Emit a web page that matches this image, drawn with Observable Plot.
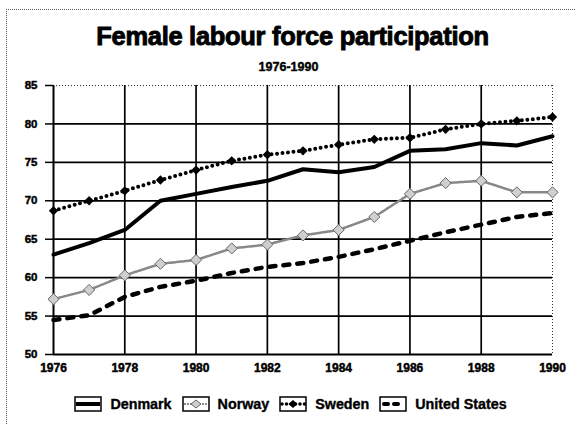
<!DOCTYPE html>
<html><head><meta charset="utf-8">
<script src="https://cdn.jsdelivr.net/npm/d3@7"></script>
<script src="https://cdn.jsdelivr.net/npm/@observablehq/plot@0.6"></script>
<style>
body{margin:0;background:#fff;font-family:"Liberation Sans",Arial,sans-serif;color:#000;}
#frame{position:relative;width:575px;height:424px;overflow:hidden;background:#fff;}
#border{position:absolute;left:6px;top:9px;width:600px;height:450px;border-top:1px dotted #555;border-left:1px dotted #555;}
#title{position:absolute;left:0;width:585px;top:23px;text-align:center;font-weight:bold;font-size:25.5px;line-height:26px;letter-spacing:-0.3px;-webkit-text-stroke:0.9px #000;}
#subtitle{position:absolute;left:0;width:577px;top:61px;text-align:center;font-weight:bold;font-size:12.5px;line-height:12.5px;-webkit-text-stroke:0.4px #000;}
#chart{position:absolute;left:0;top:75px;}
#chart text{stroke:#000;stroke-width:0.45px;}
#legend{position:absolute;left:0;width:581px;top:396px;display:flex;justify-content:center;align-items:center;font-weight:bold;font-size:14.3px;-webkit-text-stroke:0.35px #000;}
.item{display:flex;align-items:center;margin:0 5px;}
.item svg{margin-right:8px;}
</style></head>
<body>
<div id="frame">
<div id="border"></div>
<div id="title">Female labour force participation</div>
<div id="subtitle">1976-1990</div>
<div id="chart"></div>
<div id="legend"></div>
</div>
<script>
const years = [1976,1977,1978,1979,1980,1981,1982,1983,1984,1985,1986,1987,1988,1989,1990];
const seriesNames = ["Denmark","Norway","Sweden","United States"];
const denmark      = [63.0,64.5,66.2,70.0,70.9,71.8,72.6,74.1,73.7,74.4,76.5,76.7,77.5,77.2,78.4];
const norway       = [57.2,58.4,60.3,61.8,62.3,63.8,64.3,65.5,66.2,67.9,70.9,72.3,72.6,71.1,71.1];
const sweden       = [68.7,70.0,71.3,72.7,74.0,75.2,76.0,76.5,77.3,78.0,78.2,79.3,80.0,80.4,80.9];
const unitedStates = [54.5,55.1,57.5,58.8,59.6,60.6,61.4,61.9,62.7,63.7,64.8,65.9,66.9,67.9,68.4];
const yTicks = [50,55,60,65,70,75,80,85];
const xTicks = [1976,1978,1980,1982,1984,1986,1988,1990];

const rows = (name, vals) => years.map((y,i) => ({series:name, year:y, value:vals[i]}));
const dk = rows("Denmark", denmark);
const no = rows("Norway", norway);
const se = rows("Sweden", sweden);
const us = rows("United States", unitedStates);

const innerY = yTicks.filter(v => v > 50 && v < 85);
const innerX = xTicks.filter(v => v > 1976 && v < 1990);

const plot = Plot.plot({
  width: 575,
  height: 310,
  marginTop: 10,
  marginBottom: 31,
  marginLeft: 53,
  marginRight: 23,
  style: {fontFamily: "'Liberation Sans', Arial, sans-serif", fontWeight: "bold", fontSize: "11.5px", color: "#000", background: "transparent"},
  x: {domain: [1976, 1990]},
  y: {domain: [50, 85]},
  marks: [
    Plot.ruleY(innerY, {stroke: "#000", strokeWidth: 1.7}),
    Plot.ruleX(innerX, {stroke: "#000", strokeWidth: 1.7}),
    Plot.ruleY([85], {stroke: "#333", strokeWidth: 1, strokeDasharray: "1,2"}),
    Plot.ruleX([1990], {stroke: "#333", strokeWidth: 1, strokeDasharray: "1,2"}),
    Plot.ruleY([50], {stroke: "#000", strokeWidth: 2}),
    Plot.ruleX([1976], {stroke: "#000", strokeWidth: 2}),
    Plot.axisY({ticks: yTicks, tickSize: 8, tickPadding: 8, label: null, fontSize: 11.5, fontWeight: "bold", strokeWidth: 1.5}),
    Plot.axisX({ticks: xTicks, tickSize: 0, tickPadding: 9, tickFormat: "d", label: null, fontSize: 12, fontWeight: "bold"}),
    // United States: thick dashed
    Plot.line(us, {x: "year", y: "value", stroke: "#000", strokeWidth: 4.5, strokeDasharray: "6,8", strokeLinecap: "round"}),
    // Norway: grey textured line with cross-hatched markers
    Plot.line(no, {x: "year", y: "value", stroke: "#888", strokeWidth: 2.5, strokeDasharray: "2,1"}),
    Plot.dot(no, {x: "year", y: "value", symbol: "diamond2", r: 5, fill: "#cfcfcf", stroke: "#666", strokeWidth: 1}),
    // Denmark: solid thick
    Plot.line(dk, {x: "year", y: "value", stroke: "#000", strokeWidth: 4}),
    // Sweden: dotted with diamond markers
    Plot.line(se, {x: "year", y: "value", stroke: "#000", strokeWidth: 4, strokeDasharray: "0,5.5", strokeLinecap: "round"}),
    Plot.dot(se, {x: "year", y: "value", symbol: "diamond2", r: 4.2, fill: "#000"})
  ]
});
document.getElementById("chart").appendChild(plot);

// Legend (HTML swatches)
const swatches = {
  "Denmark": `<line x1="2" y1="8" x2="26" y2="8" stroke="#000" stroke-width="4"/>`,
  "Norway": `<line x1="2" y1="8" x2="26" y2="8" stroke="#888" stroke-width="2" stroke-dasharray="2,1"/><path d="M14 4 L19 8 L14 12 L9 8 Z" fill="#cfcfcf" stroke="#666"/>`,
  "Sweden": `<line x1="3" y1="8" x2="26" y2="8" stroke="#000" stroke-width="3.5" stroke-dasharray="0,4.5" stroke-linecap="round"/><path d="M14 4 L18.5 8 L14 12 L9.5 8 Z" fill="#000"/>`,
  "United States": `<line x1="5" y1="8" x2="24" y2="8" stroke="#000" stroke-width="4" stroke-dasharray="4,6" stroke-linecap="round"/>`
};
const legend = document.getElementById("legend");
seriesNames.forEach(name => {
  const it = document.createElement("div");
  it.className = "item";
  it.innerHTML = `<svg width="28" height="16" viewBox="0 0 28 16"><rect x="1" y="1" width="26" height="14" fill="#fff" stroke="#000" stroke-width="1.5"/>${swatches[name]}</svg><span>${name}</span>`;
  legend.appendChild(it);
});
</script>
</body></html>
